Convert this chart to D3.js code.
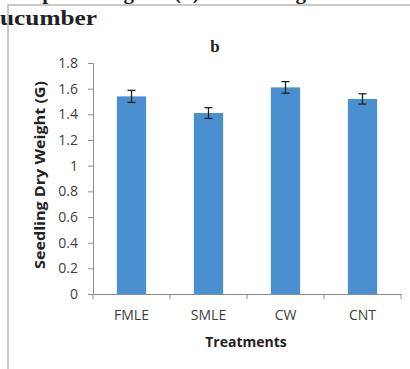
<!DOCTYPE html>
<html><head><meta charset="utf-8">
<script src="https://cdn.jsdelivr.net/npm/d3@7"></script>
<style>body{margin:0;background:#fff}svg{display:block}</style>
</head><body>
<script>
const categories = ["FMLE", "SMLE", "CW", "CNT"];
const values = [1.54, 1.41, 1.61, 1.52];
const errors = [0.047, 0.042, 0.045, 0.04];
const yTicks = [0, 0.2, 0.4, 0.6, 0.8, 1, 1.2, 1.4, 1.6, 1.8];

const W = 410, H = 369;
const svg = d3.select("body").append("svg").attr("width", W).attr("height", H);

// page fragments above the chart
const cap = svg.append("g").attr("font-family", "Liberation Serif").attr("font-weight", "bold").attr("font-size", 21).attr("fill", "#222");
cap.append("text").attr("x", 54).attr("y", -1).attr("text-anchor", "end").text("up");
cap.append("text").attr("x", 134).attr("y", -1).attr("text-anchor", "end").text("long");
cap.append("text").attr("x", 174).attr("y", -1).text("(b)");
cap.append("text").attr("x", 306).attr("y", -1).attr("text-anchor", "end").text("along");
cap.append("text").attr("x", 0).attr("y", 25).attr("font-size", 22).attr("textLength", 97).attr("lengthAdjust", "spacingAndGlyphs").text("ucumber");

// frame
svg.append("path").attr("d", `M8,${H} L8,5 L${W},5`).attr("fill", "none").attr("stroke", "#b8b8b8").attr("stroke-width", 1.5);

const x = d3.scaleBand().domain(categories).range([93, 401]).paddingInner(0.62).paddingOuter(0.31);
const xb = d3.scaleBand().domain(categories).range([93, 401]);
const y = d3.scaleLinear().domain([0, 1.8]).range([294, 63]);

svg.append("text").attr("x", 215).attr("y", 52).attr("text-anchor", "middle")
  .attr("font-family", "Liberation Serif").attr("font-weight", "bold").attr("font-size", 17).attr("fill", "#222").text("b");

// y axis
const ya = svg.append("g").attr("transform", "translate(93,0)")
  .call(d3.axisLeft(y).tickValues(yTicks).tickSize(5).tickPadding(10).tickFormat(d3.format("~g")));
ya.select(".domain").attr("stroke", "#8c8c8c");
ya.selectAll(".tick line").attr("stroke", "#8c8c8c");
ya.selectAll(".tick text").attr("font-family", "Open Sans").attr("font-size", 14).attr("fill", "#404040");

// x axis
const xa = svg.append("g").attr("transform", "translate(0,294)")
  .call(d3.axisBottom(xb).tickSize(0).tickPadding(16));
xa.select(".domain").attr("stroke", "#8c8c8c");
xa.selectAll(".tick text").attr("font-family", "Open Sans").attr("font-size", 14).attr("fill", "#404040");
const bounds = categories.map(c => xb(c)).concat([xb.range()[1]]);
svg.append("g").selectAll("line").data(bounds).join("line")
  .attr("x1", d => d).attr("x2", d => d).attr("y1", 294).attr("y2", 299).attr("stroke", "#8c8c8c");

// bars
svg.append("g").selectAll("rect").data(values).join("rect")
  .attr("x", (d, i) => x(categories[i])).attr("width", x.bandwidth())
  .attr("y", d => y(d)).attr("height", d => y(0) - y(d)).attr("fill", "#4a90d0");

// error bars
const eb = svg.append("g").attr("stroke", "#222").attr("stroke-width", 1.3);
values.forEach((v, i) => {
  const cx = x(categories[i]) + x.bandwidth() / 2;
  const e = errors[i];
  eb.append("line").attr("x1", cx).attr("x2", cx).attr("y1", y(v + e)).attr("y2", y(v - e));
  eb.append("line").attr("x1", cx - 4).attr("x2", cx + 4).attr("y1", y(v + e)).attr("y2", y(v + e));
  eb.append("line").attr("x1", cx - 4).attr("x2", cx + 4).attr("y1", y(v - e)).attr("y2", y(v - e));
});

// axis titles
svg.append("text").attr("x", 246).attr("y", 347).attr("text-anchor", "middle")
  .attr("font-family", "Open Sans").attr("font-weight", "bold").attr("font-size", 14).attr("fill", "#222").text("Treatments");
svg.append("text").attr("transform", "translate(45,175) rotate(-90)").attr("text-anchor", "middle")
  .attr("font-family", "Open Sans").attr("font-weight", "bold").attr("font-size", 14.5)
  .attr("textLength", 188).attr("lengthAdjust", "spacingAndGlyphs").attr("fill", "#222").text("Seedling Dry Weight (G)");
</script>
</body></html>
